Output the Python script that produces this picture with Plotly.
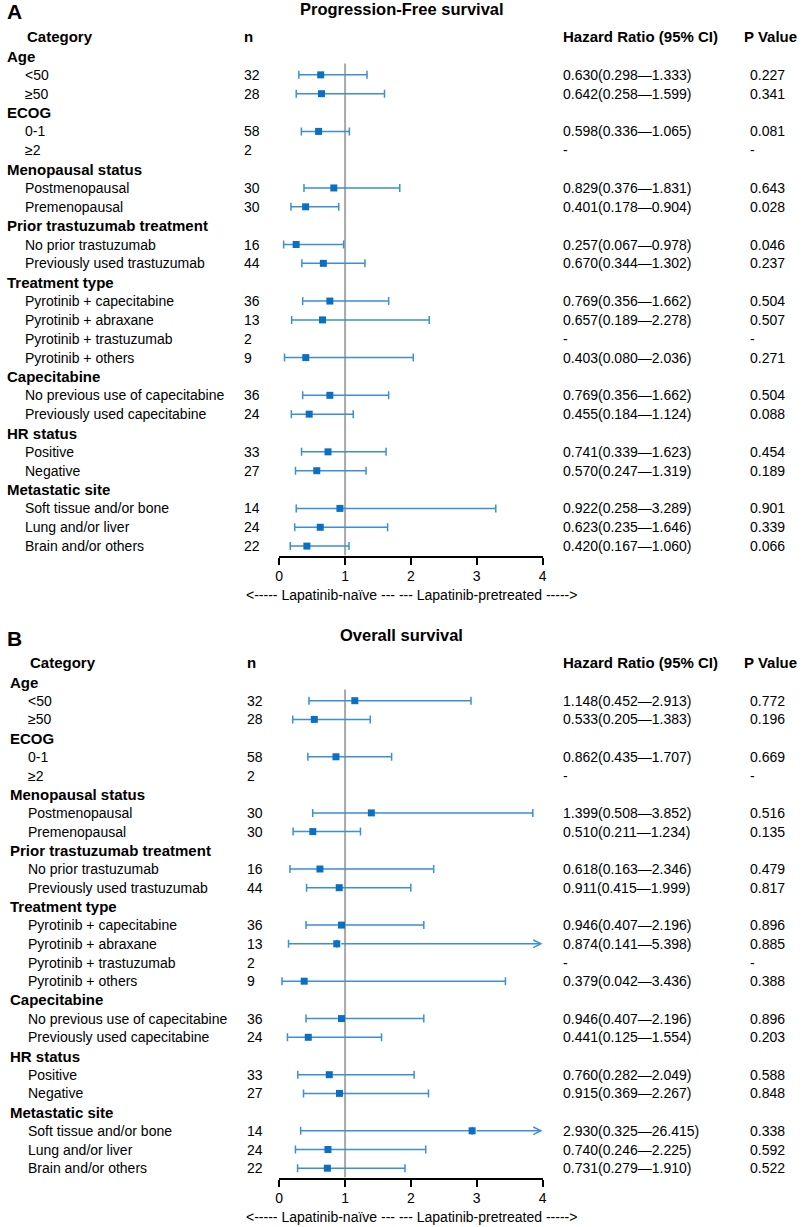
import plotly.graph_objects as go

W, H = 803, 1227
FONT = "Liberation Sans, Arial, Helvetica, sans-serif"

# -------------------------------------------------
# Data
# -------------------------------------------------
groups = ["Age", "ECOG", "Menopausal status", "Prior trastuzumab treatment",
          "Treatment type", "Capecitabine", "HR status", "Metastatic site"]
group_items = [
    ["<50", "≥50"],
    ["0-1", "≥2"],
    ["Postmenopausal", "Premenopausal"],
    ["No prior trastuzumab", "Previously used trastuzumab"],
    ["Pyrotinib + capecitabine", "Pyrotinib + abraxane",
     "Pyrotinib + trastuzumab", "Pyrotinib + others"],
    ["No previous use of capecitabine", "Previously used capecitabine"],
    ["Positive", "Negative"],
    ["Soft tissue and/or bone", "Lung and/or liver", "Brain and/or others"],
]
n_counts = [32, 28, 58, 2, 30, 30, 16, 44, 36, 13, 2, 9, 36, 24, 33, 27, 14, 24, 22]

# Progression-free survival
pfs_hr = [0.630, 0.642, 0.598, None, 0.829, 0.401, 0.257, 0.670, 0.769, 0.657,
          None, 0.403, 0.769, 0.455, 0.741, 0.570, 0.922, 0.623, 0.420]
pfs_lo = [0.298, 0.258, 0.336, None, 0.376, 0.178, 0.067, 0.344, 0.356, 0.189,
          None, 0.080, 0.356, 0.184, 0.339, 0.247, 0.258, 0.235, 0.167]
pfs_hi = [1.333, 1.599, 1.065, None, 1.831, 0.904, 0.978, 1.302, 1.662, 2.278,
          None, 2.036, 1.662, 1.124, 1.623, 1.319, 3.289, 1.646, 1.060]
pfs_p = ["0.227", "0.341", "0.081", "-", "0.643", "0.028", "0.046", "0.237",
         "0.504", "0.507", "-", "0.271", "0.504", "0.088", "0.454", "0.189",
         "0.901", "0.339", "0.066"]

# Overall survival
os_hr = [1.148, 0.533, 0.862, None, 1.399, 0.510, 0.618, 0.911, 0.946, 0.874,
         None, 0.379, 0.946, 0.441, 0.760, 0.915, 2.930, 0.740, 0.731]
os_lo = [0.452, 0.205, 0.435, None, 0.508, 0.211, 0.163, 0.415, 0.407, 0.141,
         None, 0.042, 0.407, 0.125, 0.282, 0.369, 0.325, 0.246, 0.279]
os_hi = [2.913, 1.383, 1.707, None, 3.852, 1.234, 2.346, 1.999, 2.196, 5.398,
         None, 3.436, 2.196, 1.554, 2.049, 2.267, 26.415, 2.225, 1.910]
os_p = ["0.772", "0.196", "0.669", "-", "0.516", "0.135", "0.479", "0.817",
        "0.896", "0.885", "-", "0.388", "0.896", "0.203", "0.588", "0.848",
        "0.338", "0.592", "0.522"]

x_ticks = [0, 1, 2, 3, 4]
X_MAX = 4
arrow_text = "<----- Lapatinib-naïve --- --- Lapatinib-pretreated ----->"

MARKER_COLOR = "#0b6fc4"
BAR_COLOR = "#3a8fd8"
PAD = 2  # annotation box padding, px


def px_x(p):
    return p / W


fig = go.Figure()
annotations = []
shapes = []


def add_text(text, x_px, row, yref, size=14, bold=False, anchor="left"):
    if anchor == "left":
        x_px -= PAD
    annotations.append(dict(
        text=f"<b>{text}</b>" if bold else text,
        x=px_x(x_px), xref="paper", xanchor=anchor,
        y=row, yref=yref, yanchor="middle",
        showarrow=False, font=dict(family=FONT, size=size, color="black"),
    ))


def build_panel(k, letter, title, hr, lo, hi, pv, row0_px, step_px, dx):
    xr = "x" if k == 1 else f"x{k}"
    yr = "y" if k == 1 else f"y{k}"

    # row layout
    rows_item = []
    i = 0
    for g, items in zip(groups, group_items):
        add_text(g, 3 + dx, i, yr, size=15, bold=True)
        i += 1
        for it in items:
            add_text(it, 21 + dx, i, yr)
            rows_item.append(i)
            i += 1

    add_text(letter, 3, -2.35, yr, size=21, bold=True)
    add_text(title, 402, -2.5, yr, size=16.5, bold=True, anchor="center")
    add_text("Category", 23 + dx, -1.05, yr, size=15, bold=True)
    add_text("n", 242 + dx, -1.05, yr, size=15, bold=True)
    add_text("Hazard Ratio (95% CI)", 565, -1.05, yr, size=15, bold=True)
    add_text("P Value", 747, -1.05, yr, size=15, bold=True)

    xs, ys, plus, minus = [], [], [], []
    for r, n, h, l, u, p in zip(rows_item, n_counts, hr, lo, hi, pv):
        add_text(str(n), 242 + dx, r, yr)
        add_text(p, 753, r, yr)
        if h is None:
            add_text("-", 565, r, yr)
            continue
        add_text(f"{h:.3f}({l:.3f}—{u:.3f})", 565, r, yr)
        xs.append(h)
        ys.append(r)
        minus.append(h - l)
        if u > X_MAX:
            plus.append(0)
            annotations.append(dict(
                x=X_MAX, y=r, xref=xr, yref=yr,
                ax=h, ay=r, axref=xr, ayref=yr,
                text="", showarrow=True, arrowhead=5, arrowsize=1,
                arrowwidth=1.5, arrowcolor=BAR_COLOR, startstandoff=3,
            ))
        else:
            plus.append(u - h)

    fig.add_trace(go.Scatter(
        x=xs, y=ys, mode="markers", xaxis=xr, yaxis=yr,
        marker=dict(symbol="square", size=7, color=MARKER_COLOR),
        error_x=dict(type="data", symmetric=False, array=plus, arrayminus=minus,
                     color=BAR_COLOR, thickness=1.5, width=4),
        cliponaxis=False, showlegend=False, hoverinfo="skip",
    ))

    shapes.append(dict(type="line", xref=xr, yref=yr, x0=1, x1=1, y0=0.4, y1=26.5,
                       line=dict(color="#a8a8a8", width=2), layer="below"))

    # direction caption sits below the axis, outside the y range -> paper coords
    cap_px = row0_px + 28.6 * step_px
    annotations.append(dict(
        text=arrow_text, x=px_x(412), xref="paper", xanchor="center",
        y=1 - cap_px / H, yref="paper", yanchor="middle", showarrow=False,
        font=dict(family=FONT, size=14, color="black"),
    ))

    top_row, bot_row = -2.9, 26.5
    top_px = row0_px + top_row * step_px
    bot_px = row0_px + bot_row * step_px
    dom_y = [1 - bot_px / H, 1 - top_px / H]

    xaxis = dict(domain=[px_x(278), px_x(544)], range=[0, X_MAX], anchor=yr,
                 tickvals=x_ticks, ticks="outside", ticklen=7, tickwidth=2,
                 tickcolor="black", showline=True, linewidth=2, linecolor="black",
                 showgrid=False, zeroline=False,
                 tickfont=dict(family=FONT, size=14, color="black"))
    yaxis = dict(domain=dom_y, range=[bot_row, top_row], anchor=xr,
                 visible=False, showgrid=False, zeroline=False)
    key = "" if k == 1 else str(k)
    fig.update_layout(**{f"xaxis{key}": xaxis, f"yaxis{key}": yaxis})


build_panel(1, "A", "Progression-Free survival", pfs_hr, pfs_lo, pfs_hi, pfs_p,
            56, 18.85, 0)
build_panel(2, "B", "Overall survival", os_hr, os_lo, os_hi, os_p,
            682, 18.7, 3)

fig.update_layout(
    width=W, height=H,
    margin=dict(l=0, r=0, t=0, b=0),
    paper_bgcolor="white", plot_bgcolor="white",
    annotations=annotations, shapes=shapes,
    font=dict(family=FONT, size=14, color="black"),
)

fig.write_html("out.html", config={"displayModeBar": False},
               post_script="document.body.style.margin='0';")
